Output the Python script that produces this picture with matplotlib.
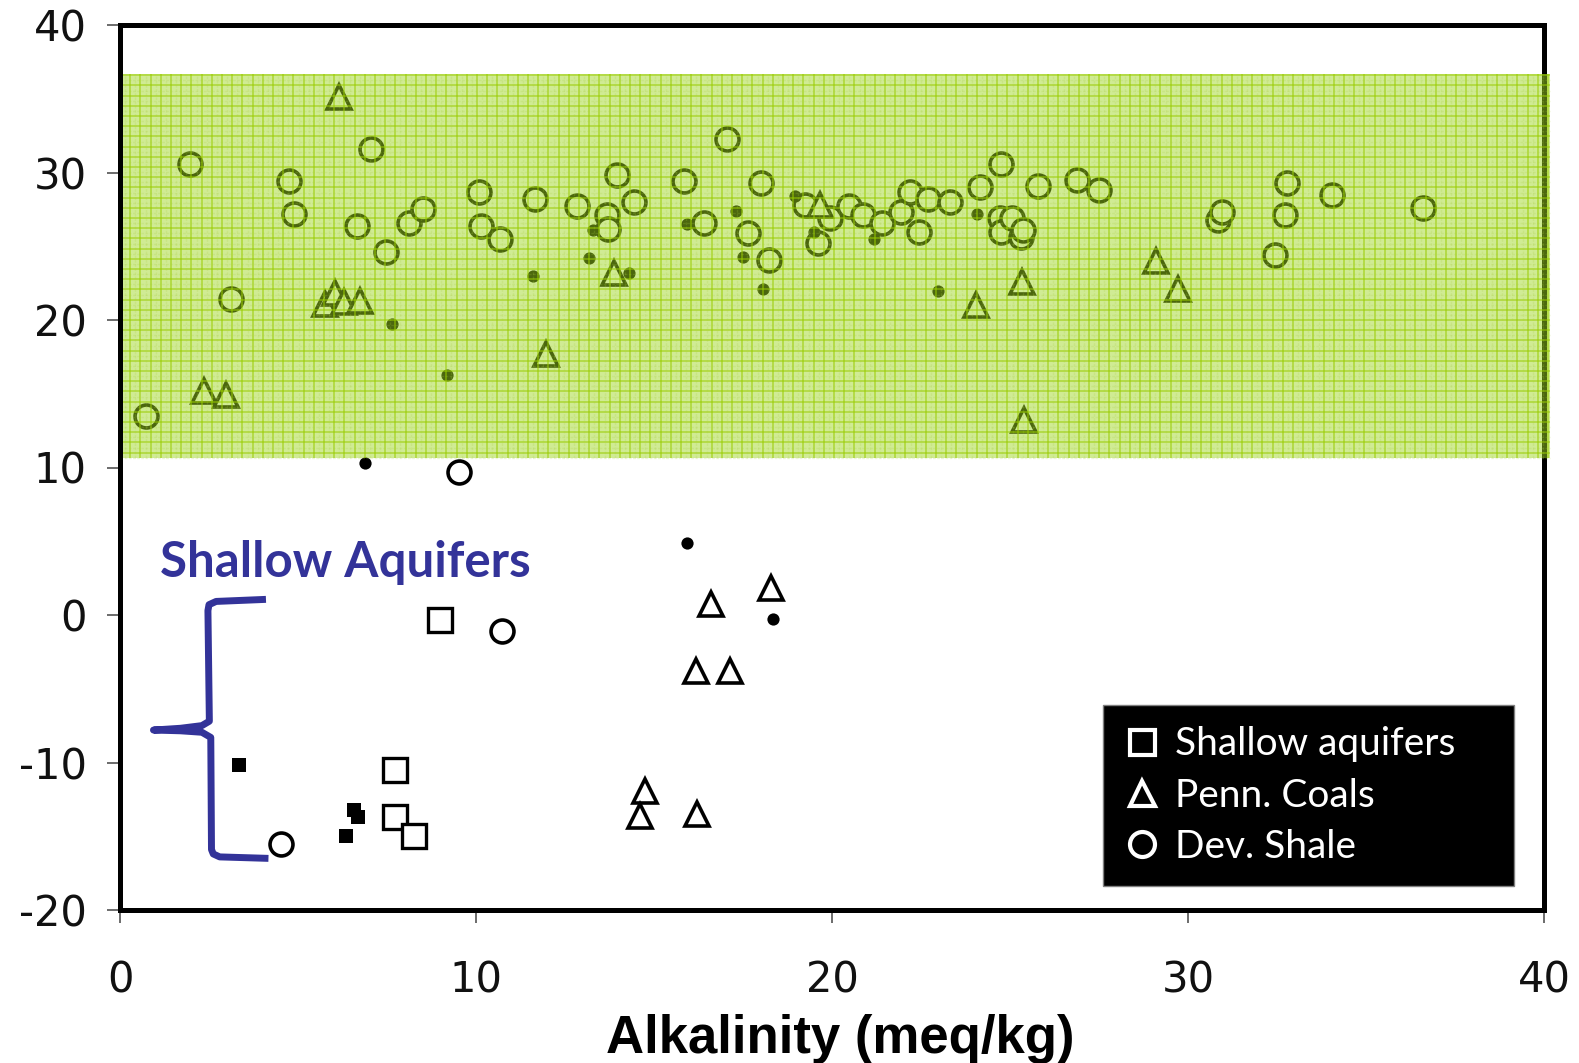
"""
Alkalinity scatter: shallow aquifers, Penn. coals and Dev. shale,
with the shaded band and the 'Shallow Aquifers' brace.
"""

import numpy as np
import matplotlib
matplotlib.use("Agg")
import matplotlib.pyplot as plt
from matplotlib.patches import Rectangle
from matplotlib.lines import Line2D

plt.rcParams["axes.unicode_minus"] = False

# Dev. Shale (open circles)
shale_x = [0.74, 1.96, 3.13, 4.74, 4.89, 6.67, 7.04, 7.47, 8.11, 8.50,
           10.08, 10.15, 10.67, 11.65, 12.85, 13.69, 13.72, 13.97, 14.43, 15.83,
           16.41, 17.06, 17.63, 18.00, 18.23, 19.25, 19.62, 19.94, 20.47, 20.86,
           21.40, 21.94, 22.18, 22.45, 22.70, 23.31, 24.15, 24.74, 24.72, 24.74,
           25.06, 25.31, 25.36, 25.80, 26.87, 27.49, 30.84, 30.96, 32.45, 32.73,
           32.79, 34.04, 36.61,
           9.53, 10.73, 4.53]
shale_y = [13.5, 30.6, 21.4, 29.4, 27.2, 26.4, 31.6, 24.6, 26.6, 27.5,
           28.7, 26.4, 25.5, 28.2, 27.7, 27.1, 26.2, 29.8, 28.0, 29.4,
           26.6, 32.3, 25.9, 29.3, 24.1, 27.8, 25.2, 26.9, 27.7, 27.1,
           26.6, 27.3, 28.7, 26.0, 28.2, 28.0, 29.0, 30.6, 26.9, 26.0,
           26.9, 25.6, 26.1, 29.1, 29.5, 28.8, 26.8, 27.3, 24.4, 27.1,
           29.3, 28.5, 27.6,
           9.7, -1.1, -15.5]

# Penn. Coals (open triangles)
coal_x = [6.15, 5.75, 6.05, 6.30, 6.75, 2.36, 2.99, 11.98, 13.87, 19.67,
          24.05, 25.33, 25.38, 29.11, 29.71,
          18.30, 16.61, 16.17, 17.14, 14.75, 14.61, 16.20]
coal_y = [35.1, 21.1, 21.8, 21.2, 21.3, 15.2, 14.9, 17.7, 23.2, 27.8,
          21.0, 22.6, 13.2, 24.0, 22.1,
          1.85, 0.77, -3.8, -3.8, -11.9, -13.6, -13.5]

# Shallow aquifers (open and filled squares)
aquifer_x = [9.00, 7.73, 7.73, 8.25]
aquifer_y = [-0.36, -10.5, -13.7, -15.0]
aquifer_fill_x = [3.34, 6.56, 6.68, 6.35]
aquifer_fill_y = [-10.2, -13.2, -13.7, -15.0]

# small filled dots
dot_x = [7.64, 9.18, 11.60, 13.17, 13.28, 14.30, 15.94, 17.29, 17.49, 18.05,
         18.96, 19.50, 21.19, 22.99, 24.06, 6.87, 15.94, 18.33]
dot_y = [19.7, 16.3, 23.0, 24.2, 26.1, 23.2, 26.5, 27.4, 24.3, 22.1,
         28.4, 26.0, 25.5, 22.0, 27.2, 10.3, 4.9, -0.3]

# shaded band
band_x = (0.0, 40.18)
band_y = (10.66, 36.68)

# brace outline for the 'Shallow Aquifers' group
brace_x = [4.10, 2.70, 2.50, 2.47, 2.51, 2.30, 1.70, 0.94, 1.70, 2.30, 2.55,
           2.57, 2.62, 2.80, 4.17]
brace_y = [1.06, 0.92, 0.70, 0.30, -7.20, -7.50, -7.68, -7.80, -7.85, -7.95,
           -8.30, -15.90, -16.20, -16.40, -16.50]

legend_labels = ["Shallow aquifers", "Penn. Coals", "Dev. Shale"]

W, H = 1579, 1063
fig = plt.figure(figsize=(W / 100, H / 100), dpi=100)
ax = fig.add_axes([120 / W, 1 - 910 / H, 1424 / W, 885 / H])

ax.set_xlim(0, 40)
ax.set_ylim(-20, 40)
ax.set_xticks([0, 10, 20, 30, 40])
ax.set_yticks([-20, -10, 0, 10, 20, 30, 40])

ax.plot(shale_x, shale_y, "o", ms=16.5, mfc="white", mec="black", mew=2.6, zorder=2)
ax.plot(coal_x, coal_y, "^", ms=17, mfc="white", mec="black", mew=2.6, zorder=2)
ax.plot(aquifer_x, aquifer_y, "s", ms=17.5, mfc="white", mec="black", mew=2.4, zorder=2)
ax.plot(aquifer_fill_x, aquifer_fill_y, "s", ms=10, mfc="black", mec="black", mew=0, zorder=2)
ax.plot(dot_x, dot_y, "o", ms=8.8, mfc="black", mec="black", mew=0, zorder=2)

# translucent green band drawn over the markers
ax.add_patch(Rectangle((band_x[0], band_y[0]), band_x[1] - band_x[0],
                       band_y[1] - band_y[0], facecolor=(0.62, 0.84, 0.12),
                       alpha=0.48, edgecolor="none", zorder=3, clip_on=False))

# graph-paper texture inside the band
step_x = 10.2 / 35.6
step_y = 10.2 / 14.75
gx = np.arange(band_x[0] + step_x, band_x[1], step_x)
gy = np.arange(band_y[0] + step_y * 0.5, band_y[1], step_y)
ax.vlines(gx, band_y[0], band_y[1], color="#99cc00", lw=1.2, alpha=0.6,
          zorder=3.1, clip_on=False)
ax.hlines(gy, band_x[0], band_x[1], color="#99cc00", lw=1.2, alpha=0.6,
          zorder=3.1, clip_on=False)
ax.vlines(gx - step_x / 2, band_y[0], band_y[1], color="#a8d040", lw=1.0,
          alpha=0.2, linestyles=(0, (2, 1)), zorder=3.1, clip_on=False)
ax.hlines(gy - step_y / 2, band_x[0], band_x[1], color="#a8d040", lw=1.0,
          alpha=0.2, linestyles=(0, (2, 1)), zorder=3.1, clip_on=False)

# brace + label
ax.plot(brace_x, brace_y, color="#333399", lw=5.0, solid_joinstyle="round",
        solid_capstyle="butt", zorder=4, clip_on=False)
ax.text(1.13, 2.56, "Shallow Aquifers", family="Lato", weight="bold",
        fontsize=35.5, color="#333399", ha="left", va="baseline", zorder=4)

for side, sp in ax.spines.items():
    sp.set_linewidth(3.6)
    sp.set_color("black")
ax.spines["left"].set_zorder(4)
ax.spines["top"].set_zorder(4)
ax.spines["bottom"].set_zorder(4)

ax.tick_params(axis="both", direction="out", length=9.4, width=1.3,
               color="#606060", labelsize=30, labelcolor="#111111")
ax.tick_params(axis="y", pad=14.5)
ax.tick_params(axis="x", pad=26)

fig.text(0.532, 1 - 1053 / H, "Alkalinity (meq/kg)", family="Liberation Sans",
         weight="bold", fontsize=38, ha="center", va="baseline")

handles = [
    Line2D([], [], marker="s", ls="none", ms=18, mfc="black", mec="white", mew=3.0),
    Line2D([], [], marker="^", ls="none", ms=18, mfc="black", mec="white", mew=3.0),
    Line2D([], [], marker="o", ls="none", ms=18, mfc="black", mec="white", mew=3.0),
]
leg = ax.legend(handles, legend_labels, loc="lower left",
                bbox_to_anchor=(0.690, 0.027, 0.289, 0.208), mode="expand",
                borderaxespad=0, frameon=True, facecolor="black",
                edgecolor="#808080", framealpha=1, fancybox=False,
                labelcolor="white", prop={"family": "Lato", "size": 28},
                handlelength=0.95, handletextpad=0.35, labelspacing=0.39,
                borderpad=0.55)
leg.set_zorder(5)
leg.get_frame().set_linewidth(1.0)

fig.savefig("out.png", dpi=100)
